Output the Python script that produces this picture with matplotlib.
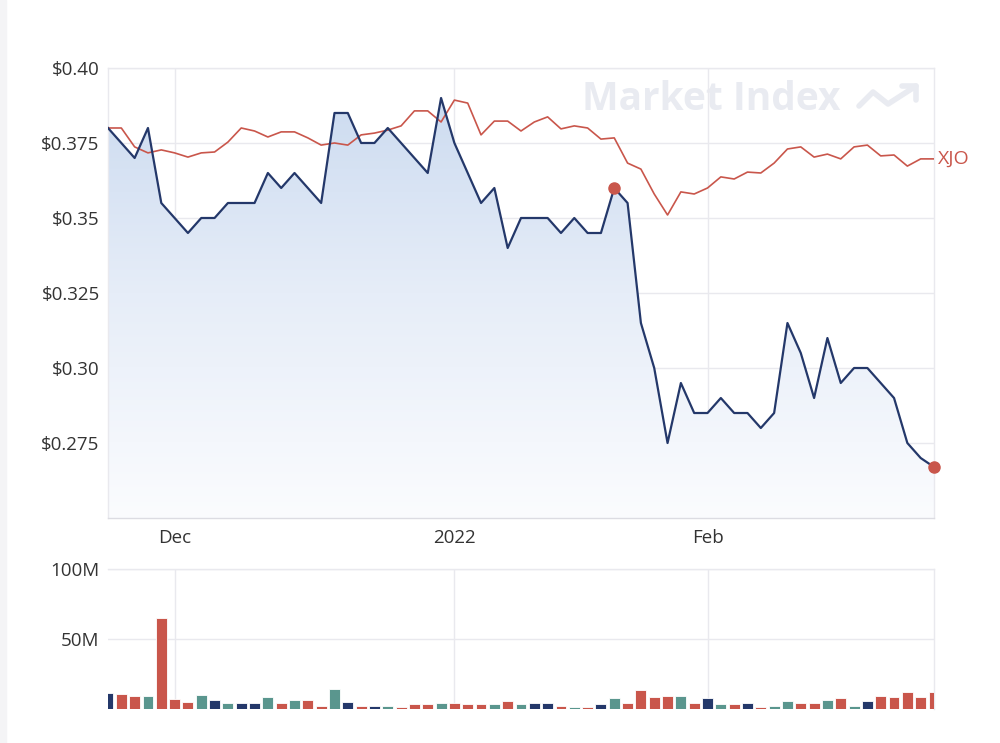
import numpy as np
import pandas as pd
import matplotlib
matplotlib.use("Agg")
import matplotlib.pyplot as plt
from matplotlib.colors import LinearSegmentedColormap
from matplotlib.patches import Rectangle

plt.rcParams['font.family'] = ['Open Sans', 'DejaVu Sans']

# ASX trading days, 24 Nov 2021 - 24 Feb 2022
holidays = ['2021-12-27', '2021-12-28', '2022-01-03', '2022-01-26']
dates = pd.bdate_range('2021-11-24', '2022-02-24', freq='C', holidays=holidays)

# share price ($)
price = [0.38, 0.375, 0.37, 0.38, 0.355, 0.35, 0.345, 0.35, 0.35, 0.355,
         0.355, 0.355, 0.365, 0.36, 0.365, 0.36, 0.355, 0.385, 0.385, 0.375,
         0.375, 0.38, 0.375, 0.37, 0.365, 0.39, 0.375, 0.365, 0.355, 0.36,
         0.34, 0.35, 0.35, 0.35, 0.345, 0.35, 0.345, 0.345, 0.36, 0.355,
         0.315, 0.30, 0.275, 0.295, 0.285, 0.285, 0.29, 0.285, 0.285, 0.28,
         0.285, 0.315, 0.305, 0.29, 0.31, 0.295, 0.30, 0.30, 0.295, 0.29,
         0.275, 0.27, 0.267]

# XJO rebased to the share price
xjo = [0.380, 0.380, 0.3737, 0.3717, 0.3727, 0.3717, 0.3703, 0.3717, 0.372, 0.3753,
       0.380, 0.379, 0.377, 0.3787, 0.3787, 0.3767, 0.3743, 0.375, 0.3743, 0.3777,
       0.3783, 0.3793, 0.3807, 0.3857, 0.3857, 0.382, 0.3893, 0.3883, 0.3777, 0.3823,
       0.3823, 0.379, 0.382, 0.3837, 0.3797, 0.3807, 0.380, 0.3763, 0.3767, 0.3683,
       0.3663, 0.3580, 0.351, 0.3587, 0.358, 0.360, 0.3637, 0.363, 0.3653, 0.365,
       0.3683, 0.373, 0.3737, 0.3703, 0.3713, 0.3697, 0.3737, 0.3743, 0.3707, 0.371,
       0.3673, 0.3697, 0.3697]

# volume (millions)
volume = [11.7, 10.5, 9.3, 9.3, 64.8, 7.4, 5.2, 10.2, 6.4, 4.3,
          4.3, 4.3, 8.4, 4.3, 6.4, 6.4, 2.4, 14.3, 5.2, 2.4,
          2.4, 2.1, 1.4, 3.3, 3.3, 4.5, 4.5, 3.3, 3.3, 3.3,
          5.5, 3.3, 4.5, 4.5, 2.4, 1.4, 1.4, 3.3, 7.6, 4.5,
          13.6, 8.6, 9.5, 9.5, 4.3, 7.6, 3.3, 3.3, 4.5, 1.4,
          2.4, 5.5, 4.5, 4.5, 6.7, 7.6, 2.4, 5.5, 9.5, 8.6,
          12.4, 8.6, 12.4]

highlight_days = [38, 62]

price_ticks = [0.40, 0.375, 0.35, 0.325, 0.30, 0.275]
price_labels = ['$0.40', '$0.375', '$0.35', '$0.325', '$0.30', '$0.275']
vol_ticks = [50, 100]
vol_labels = ['50M', '100M']

navy = '#24386a'
red = '#c9564b'
teal = '#5a968e'
grid_c = '#e9e9ee'
text_c = '#333333'
wm_c = '#e9ebf1'

x = np.arange(len(dates))
price = np.array(price)

# month ticks at first trading day of each month
month_idx = [i for i in range(1, len(dates)) if dates[i].month != dates[i - 1].month]
month_lbl = [str(dates[i].year) if dates[i].month == 1 else dates[i].strftime('%b') for i in month_idx]

fig = plt.figure(figsize=(10, 7.43), dpi=100)
fig.patches.append(Rectangle((0, 0), 0.006, 1, transform=fig.transFigure,
                             color='#f4f4f6', zorder=0))

ax = fig.add_axes([0.108, 0.3028, 0.826, 0.6057])
axv = fig.add_axes([0.108, 0.0458, 0.826, 0.1884])

# --- price panel ---
ax.set_xlim(0, len(dates) - 1)
ax.set_ylim(0.25, 0.40)

# gradient fill under the price line
poly = ax.fill_between(x, price, 0.25, facecolor='none', edgecolor='none')
cmap = LinearSegmentedColormap.from_list('fillgrad', ['#fbfcfe', '#e6edf8', '#c9d9ef'])
grad = np.linspace(0, 1, 256).reshape(-1, 1)
im = ax.imshow(grad, extent=[0, len(dates) - 1, 0.25, 0.40], origin='lower',
               aspect='auto', cmap=cmap, zorder=1)
im.set_clip_path(poly.get_paths()[0], transform=ax.transData)

ax.plot(x, xjo, color=red, lw=1.2, zorder=3)
ax.plot(x, price, color=navy, lw=1.6, zorder=4)
ax.plot(x[highlight_days], price[highlight_days], 'o', color=red, ms=8,
        zorder=5, clip_on=False)
ax.text(len(dates) - 1 + 0.3, xjo[-1], 'XJO', color=red, fontsize=14,
        va='center', ha='left')

ax.set_yticks(price_ticks)
ax.set_yticklabels(price_labels)
ax.set_xticks(month_idx)
ax.set_xticklabels(month_lbl)

# watermark
ax.text(0.73, 0.929, 'Market Index', transform=ax.transAxes, fontsize=28,
        fontweight='bold', color=wm_c, ha='center', va='center', zorder=0)
wm = fig.transFigure
px = lambda xs, ys: ([v / 1000 for v in xs], [1 - v / 743 for v in ys])
ax.plot(*px([859, 873, 888, 916], [106, 92, 104, 86]), transform=wm,
        color=wm_c, lw=4, solid_capstyle='round', solid_joinstyle='round', zorder=0)
ax.plot(*px([902, 916, 916], [86, 86, 100]), transform=wm,
        color=wm_c, lw=4, solid_capstyle='round', solid_joinstyle='round', zorder=0)

# --- volume panel ---
bar_colors = [navy]
for i in range(1, len(price)):
    if price[i] > price[i - 1]:
        bar_colors.append(teal)
    elif price[i] < price[i - 1]:
        bar_colors.append(red)
    else:
        bar_colors.append(navy)
axv.bar(x, volume, width=0.82, color=bar_colors, edgecolor='white', linewidth=0.6, zorder=3)
axv.set_xlim(0, len(dates) - 1)
axv.set_ylim(0, 100)
axv.set_yticks(vol_ticks)
axv.set_yticklabels(vol_labels)
axv.set_xticks(month_idx)
axv.set_xticklabels([])

for a in (ax, axv):
    a.grid(True, color=grid_c, lw=1, zorder=0)
    a.set_axisbelow(True)
    a.tick_params(length=0, labelsize=13.5, labelcolor=text_c, pad=6)
    for s in a.spines.values():
        s.set_color(grid_c)
        s.set_linewidth(1)
    a.spines['bottom'].set_color('#dcdce2')
axv.spines['bottom'].set_visible(False)
axv.spines['left'].set_visible(False)
ax.tick_params(axis='x', pad=8)

fig.savefig('out.png', dpi=100)
